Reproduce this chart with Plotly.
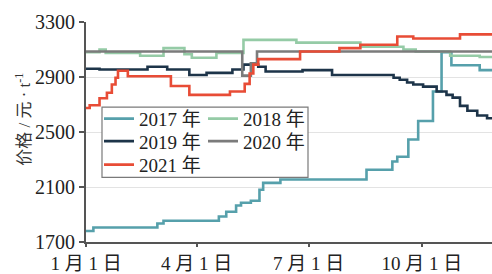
import plotly.graph_objects as go

# ---- data (day of year, price) ----
days_2017 = [0, 6, 58, 63, 108, 114, 122, 126, 134, 141, 144, 158, 228, 249, 253, 262, 270, 282, 289, 297, 320, 330]
vals_2017 = [1780, 1805, 1835, 1855, 1885, 1920, 1965, 1985, 2000, 2080, 2130, 2155, 2225, 2285, 2320, 2445, 2580, 2795, 3080, 2985, 2950, 2950]

days_2018 = [0, 11, 16, 44, 63, 80, 86, 106, 128, 171, 223, 258, 268, 296, 320, 330]
vals_2018 = [3080, 3100, 3075, 3055, 3110, 3065, 3040, 3075, 3170, 3150, 3120, 3100, 3085, 3055, 3045, 3045]

days_2019 = [0, 11, 50, 66, 84, 98, 119, 128, 140, 146, 176, 200, 250, 255, 261, 266, 274, 285, 293, 298, 304, 310, 318, 326, 330]
vals_2019 = [2960, 2955, 2975, 2955, 2915, 2930, 2955, 2990, 2975, 2940, 2950, 2915, 2895, 2880, 2860, 2845, 2830, 2795, 2770, 2750, 2690, 2655, 2620, 2600, 2600]

days_2020 = [0, 127, 134, 139, 330]
vals_2020 = [3085, 2910, 3000, 3085, 3085]

days_2021 = [0, 3, 11, 17, 21, 24, 26, 34, 69, 84, 117, 129, 133, 136, 140, 174, 206, 223, 253, 266, 304, 330]
vals_2021 = [2675, 2695, 2745, 2785, 2845, 2895, 2945, 2905, 2835, 2770, 2795, 2850, 2925, 2990, 3030, 3085, 3110, 3135, 3195, 3180, 3210, 3210]

x_tickvals = [0, 90, 181, 273]
x_ticktext = ["1 月 1 日", "4 月 1 日", "7 月 1 日", "10 月 1 日"]
y_tickvals = [1700, 2100, 2500, 2900, 3300]

FONT = "Liberation Serif, Times New Roman, Noto Sans CJK SC, serif"

W, H = 492, 274
ml, mr, mt, mb = 86, 0, 22, 27
pw, ph = W - ml - mr, H - mt - mb

def px_x(p):
    return (p - ml) / pw

def px_y(p):
    return (H - mb - p) / ph

# name, x, y, colour, legend id, legend-left px, legend-row-centre px
series = [
    ("2017 年", days_2017, vals_2017, "#56a0ab", "legend", 99, 121),
    ("2018 年", days_2018, vals_2018, "#95cba6", "legend2", 203, 121),
    ("2019 年", days_2019, vals_2019, "#1d3449", "legend3", 99, 144),
    ("2020 年", days_2020, vals_2020, "#7b7b7b", "legend4", 203, 144),
    ("2021 年", days_2021, vals_2021, "#e84c36", "legend5", 99, 168),
]

fig = go.Figure()
legends = {}
for name, xs, ys, color, lg, lx, ly in series:
    fig.add_trace(go.Scatter(
        x=xs, y=ys, name=name, mode="lines",
        line=dict(color=color, width=2.6, shape="hv"),
        legend=lg, showlegend=True,
    ))
    legends[lg] = dict(
        x=px_x(lx), y=px_y(ly), xanchor="left", yanchor="middle",
        orientation="v", bgcolor="rgba(0,0,0,0)", borderwidth=0,
        font=dict(family=FONT, size=19, color="#222222"),
        tracegroupgap=0, itemwidth=30, visible=True,
    )

fig.update_layout(
    width=W, height=H, showlegend=True,
    margin=dict(l=ml, r=mr, t=mt, b=mb, pad=0),
    paper_bgcolor="white", plot_bgcolor="white",
    font=dict(family=FONT, size=19, color="#222222"),
    xaxis=dict(
        range=[0, 330], tickmode="array", tickvals=x_tickvals, ticktext=x_ticktext,
        showgrid=False, zeroline=False, showline=True, linecolor="#555555", linewidth=2,
        ticks="outside", ticklen=3, tickcolor="#555555", tickwidth=1.5,
        tickfont=dict(family=FONT, size=19, color="#222222"),
    ),
    yaxis=dict(
        range=[1700, 3300], tickmode="array", tickvals=y_tickvals,
        showgrid=True, gridcolor="#e3e3e3", gridwidth=1, zeroline=False,
        showline=True, linecolor="#555555", linewidth=2,
        ticks="outside", ticklen=5, tickcolor="#555555", tickwidth=1.5,
        tickfont=dict(family=FONT, size=20, color="#222222"),
    ),
    shapes=[dict(
        type="rect", xref="paper", yref="paper",
        x0=px_x(102), x1=px_x(308), y0=px_y(181), y1=px_y(109),
        line=dict(color="#7a7a7a", width=1.2), fillcolor="white", layer="above",
    )],
    annotations=[dict(
        text="价格 / 元 · t<sup>-1</sup>", xref="paper", yref="paper",
        x=px_x(23), y=px_y(122), xanchor="center", yanchor="middle",
        textangle=-90, showarrow=False,
        font=dict(family=FONT, size=17, color="#333333"),
    )],
)
fig.update_layout(**legends)

fig.write_html(
    "out.html",
    config={"displayModeBar": False},
    post_script="document.body.style.margin='0px';",
)
